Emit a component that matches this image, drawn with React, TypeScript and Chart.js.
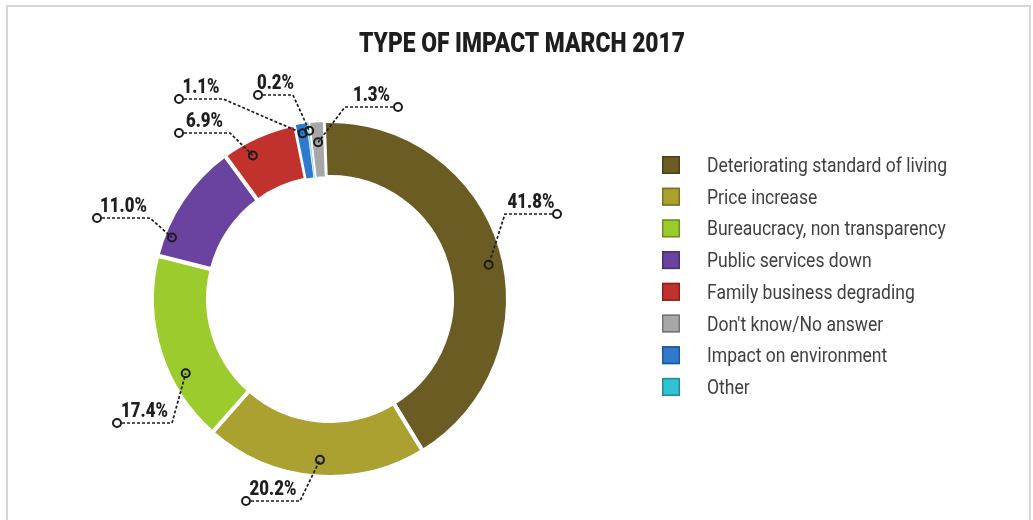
import React, { useEffect, useRef } from "react";
import { Chart, registerables } from "chart.js";

Chart.register(...registerables);

// ---------------- data ----------------
const TITLE = "TYPE OF IMPACT MARCH 2017";
const categories = [
  "Deteriorating standard of living",
  "Price increase",
  "Bureaucracy, non transparency",
  "Public services down",
  "Family business degrading",
  "Impact on environment",
  "Other",
  "Don't know/No answer",
];
const shares = [41.8, 20.2, 17.4, 11.0, 6.9, 1.1, 0.2, 1.3];
const sliceColors = ["#6b5c24", "#aaa130", "#9ccb2e", "#6a43a1", "#c1322c", "#2f79cf", "#30c3d6", "#a7a7a7"];
const legendOrder = [0, 1, 2, 3, 4, 7, 5, 6];

// ---------------- layout / style ----------------
const W = 1033;
const H = 520;
const CX = 330;
const CY = 299;
const OUTER_R = 178;
const AREA = 380;
const CUTOUT = "68.5%";
const ROTATION = -2;
const SLICE_BORDERS = [4, 4, 4, 4, 4, 1.5, 0.5, 2];

// per-slice callout placement (relative to doughnut centre)
const labelLayout = [
  { frac: 0.53, rFrac: 0.72, endDx: 227, elbowDx: 175, lineDy: -85 },
  { frac: 0.48, rFrac: 0.7, endDx: -84, elbowDx: -30, lineDy: 202 },
  { frac: 0.34, rFrac: 0.72, endDx: -213, elbowDx: -158, lineDy: 124 },
  { frac: 0.18, rFrac: 0.85, endDx: -233, elbowDx: -180, lineDy: -81 },
  { frac: 0.32, rFrac: 0.73, endDx: -151, elbowDx: -100, lineDy: -166 },
  { frac: 0.5, rFrac: 0.82, endDx: -151, elbowDx: -107, lineDy: -200 },
  { frac: 0.5, rFrac: 0.85, endDx: -72, elbowDx: -37, lineDy: -204 },
  { frac: 0.5, rFrac: 0.63, endDx: 68, elbowDx: 15, lineDy: -192 },
];

const TITLE_FONT = "900 28px Roboto, 'DejaVu Sans', sans-serif";
const TITLE_WIDTH = 326;
const TITLE_Y = 52;
const TITLE_X = 522;
const LABEL_FONT = "900 20px Roboto, 'DejaVu Sans', sans-serif";
const LABEL_SCALE = 0.84;
const LEGEND_FONT = "21px Roboto, 'DejaVu Sans', sans-serif";
const LEGEND_WIDTH = 240;
const LEGEND_BOX_X = 662;
const LEGEND_BOX = 18;
const LEGEND_TEXT_X = 707;
const LEGEND_Y0 = 165;
const LEGEND_STEP = 31.7;

function darken(hex: string, f: number) {
  const n = parseInt(hex.slice(1), 16);
  const r = Math.round(((n >> 16) & 255) * f);
  const g = Math.round(((n >> 8) & 255) * f);
  const b = Math.round((n & 255) * f);
  return `rgb(${r},${g},${b})`;
}

function condensedText(ctx: CanvasRenderingContext2D, text: string, x: number, y: number, font: string, sx: number, align: CanvasTextAlign) {
  ctx.save();
  ctx.font = font;
  ctx.translate(x, y);
  ctx.scale(sx, 1);
  ctx.textAlign = align;
  ctx.textBaseline = "alphabetic";
  ctx.fillText(text, 0, 0);
  ctx.restore();
}

const decorPlugin = {
  id: "decor",
  beforeDraw(chart: any) {
    const ctx: CanvasRenderingContext2D = chart.ctx;
    ctx.save();
    ctx.fillStyle = "#ffffff";
    ctx.fillRect(0, 0, W, H);
    ctx.strokeStyle = "#d6d6d6";
    ctx.lineWidth = 2;
    ctx.strokeRect(7, 6, 1023, 530);
    ctx.restore();

    // title
    ctx.save();
    ctx.font = TITLE_FONT;
    const tw = ctx.measureText(TITLE).width;
    ctx.restore();
    ctx.fillStyle = "#1e1e1e";
    condensedText(ctx, TITLE, TITLE_X, TITLE_Y, TITLE_FONT, TITLE_WIDTH / tw, "center");

    // legend
    ctx.save();
    ctx.font = LEGEND_FONT;
    const lw = ctx.measureText(categories[0]).width;
    ctx.restore();
    const lscale = LEGEND_WIDTH / lw;
    legendOrder.forEach((idx, k) => {
      const yc = LEGEND_Y0 + k * LEGEND_STEP;
      ctx.save();
      ctx.fillStyle = sliceColors[idx];
      ctx.fillRect(LEGEND_BOX_X, yc - LEGEND_BOX / 2, LEGEND_BOX, LEGEND_BOX);
      ctx.strokeStyle = darken(sliceColors[idx], 0.7);
      ctx.lineWidth = 1.5;
      ctx.strokeRect(LEGEND_BOX_X + 0.75, yc - LEGEND_BOX / 2 + 0.75, LEGEND_BOX - 1.5, LEGEND_BOX - 1.5);
      ctx.restore();
      ctx.fillStyle = "#404040";
      condensedText(ctx, categories[idx], LEGEND_TEXT_X, yc + 7, LEGEND_FONT, lscale, "left");
    });
  },
  afterDatasetsDraw(chart: any) {
    const ctx: CanvasRenderingContext2D = chart.ctx;
    const meta = chart.getDatasetMeta(0);
    meta.data.forEach((arc: any, i: number) => {
      const p = arc.getProps(["x", "y", "startAngle", "endAngle", "innerRadius", "outerRadius"], true);
      const L = labelLayout[i];
      const a = p.startAngle + (p.endAngle - p.startAngle) * L.frac;
      const r = p.innerRadius + (p.outerRadius - p.innerRadius) * L.rFrac;
      const ax = p.x + Math.cos(a) * r;
      const ay = p.y + Math.sin(a) * r;
      const ly = p.y + L.lineDy;
      const ex = p.x + L.endDx;
      const bx = p.x + L.elbowDx;

      ctx.save();
      ctx.strokeStyle = "#1c1c1c";
      ctx.lineWidth = 1.7;
      ctx.setLineDash([3, 2]);
      ctx.beginPath();
      ctx.moveTo(ex, ly);
      ctx.lineTo(bx, ly);
      ctx.lineTo(ax, ay);
      ctx.stroke();
      ctx.setLineDash([]);
      ctx.lineWidth = 2;
      ctx.fillStyle = "#ffffff";
      ctx.beginPath();
      ctx.arc(ex, ly, 4, 0, Math.PI * 2);
      ctx.fill();
      ctx.stroke();
      ctx.beginPath();
      ctx.arc(ax, ay, 4, 0, Math.PI * 2);
      ctx.stroke();
      ctx.restore();

      ctx.fillStyle = "#1e1e1e";
      condensedText(ctx, `${shares[i].toFixed(1)}%`, (ex + bx) / 2, ly - 6, LABEL_FONT, LABEL_SCALE, "center");
    });
  },
};

export default function App() {
  const ref = useRef<HTMLCanvasElement | null>(null);
  useEffect(() => {
    if (!ref.current) return;
    const left = CX - AREA / 2;
    const top = CY - AREA / 2;
    const chart = new Chart(ref.current, {
      type: "doughnut",
      data: {
        labels: categories,
        datasets: [
          {
            data: shares,
            backgroundColor: sliceColors,
            borderColor: "#ffffff",
            borderWidth: SLICE_BORDERS,
            hoverOffset: 0,
          } as any,
        ],
      },
      options: {
        responsive: false,
        animation: false,
        events: [],
        radius: OUTER_R,
        cutout: CUTOUT,
        rotation: ROTATION,
        layout: { padding: { left, top, right: W - left - AREA, bottom: H - top - AREA } },
        plugins: { legend: { display: false }, title: { display: false }, tooltip: { enabled: false } },
      } as any,
      plugins: [decorPlugin as any],
    });
    return () => chart.destroy();
  }, []);
  return (
    <div style={{ position: "absolute", left: 0, top: 0, width: W, height: H, background: "#fff" }}>
      <canvas ref={ref} width={W} height={H} style={{ width: W, height: H, display: "block" }} />
    </div>
  );
}
